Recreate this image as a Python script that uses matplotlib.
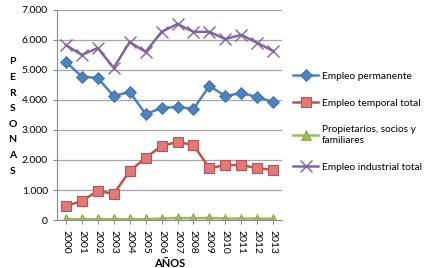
import numpy as np
import matplotlib.pyplot as plt

plt.rcParams['font.family'] = ['Lato', 'DejaVu Sans']

# Data
years = ['2000', '2001', '2002', '2003', '2004', '2005', '2006',
         '2007', '2008', '2009', '2010', '2011', '2012', '2013']
permanente = [5270, 4780, 4730, 4130, 4270, 3530, 3730,
              3770, 3700, 4470, 4130, 4230, 4100, 3930]
temporal = [470, 630, 970, 870, 1630, 2070, 2470,
            2600, 2500, 1730, 1830, 1830, 1730, 1670]
propietarios = [30, 30, 30, 30, 30, 30, 50,
                70, 60, 70, 50, 50, 50, 40]
industrial = [5830, 5500, 5730, 5070, 5930, 5600, 6270,
              6530, 6270, 6270, 6030, 6170, 5900, 5630]

labels = ['Empleo permanente', 'Empleo temporal total',
          'Propietarios, socios y\nfamiliares', 'Empleo industrial total']

fig = plt.figure(figsize=(4.26, 2.68), dpi=100)
ax = fig.add_axes([0.134, 0.179, 0.528, 0.784])

x = np.arange(len(years))
blue, red, green, purple = '#4F81BD', '#C0504D', '#9BBB59', '#8064A2'

l1, = ax.plot(x, permanente, color=blue, lw=1.8, marker='D', ms=6,
              mfc=blue, mec='#3b6aa0', mew=0.6)
l2, = ax.plot(x, temporal, color=red, lw=1.8, marker='s', ms=7.5,
              mfc='#e07a78', mec='#c0504d', mew=0.8)
l3, = ax.plot(x, propietarios, color=green, lw=1.8, marker='^', ms=7.5,
              mfc=green, mec='#88a84a', mew=0.6)
l4, = ax.plot(x, industrial, color=purple, lw=1.8, marker='x', ms=8,
              mew=1.0)

ax.set_ylim(0, 7000)
ax.set_xlim(-0.55, len(years) - 0.45)
ax.set_yticks(range(0, 7001, 1000))
ax.set_yticklabels(['0', '1.000', '2.000', '3.000', '4.000', '5.000', '6.000', '7.000'])
ax.set_xticks(x)
ax.set_xticklabels(years, rotation=270)
ax.yaxis.grid(True, color='#a6a6a6', lw=0.9)
ax.set_axisbelow(True)
for s in ['top', 'right']:
    ax.spines[s].set_visible(False)
for s in ['left', 'bottom']:
    ax.spines[s].set_color('#8c8c8c')
ax.tick_params(axis='both', labelsize=7.5, colors='#8c8c8c', length=3, labelcolor='black')
ax.tick_params(axis='x', pad=4)

ax.set_xlabel('AÑOS', fontsize=8, fontweight='bold', labelpad=3)

# stacked vertical y label
for i, ch in enumerate('PERSONAS'):
    fig.text(0.029, 1 - (62 + i * 15.6) / 268, ch, fontsize=7.5, fontweight='bold',
             ha='center', va='center')

fig.legend([l1, l2, l3, l4], labels, loc='upper left',
           bbox_to_anchor=(0.678, 0.748), frameon=False, fontsize=7.3,
           handlelength=2.5, handletextpad=0.35, labelspacing=1.75,
           borderaxespad=0)

fig.savefig('out.png', dpi=100)
